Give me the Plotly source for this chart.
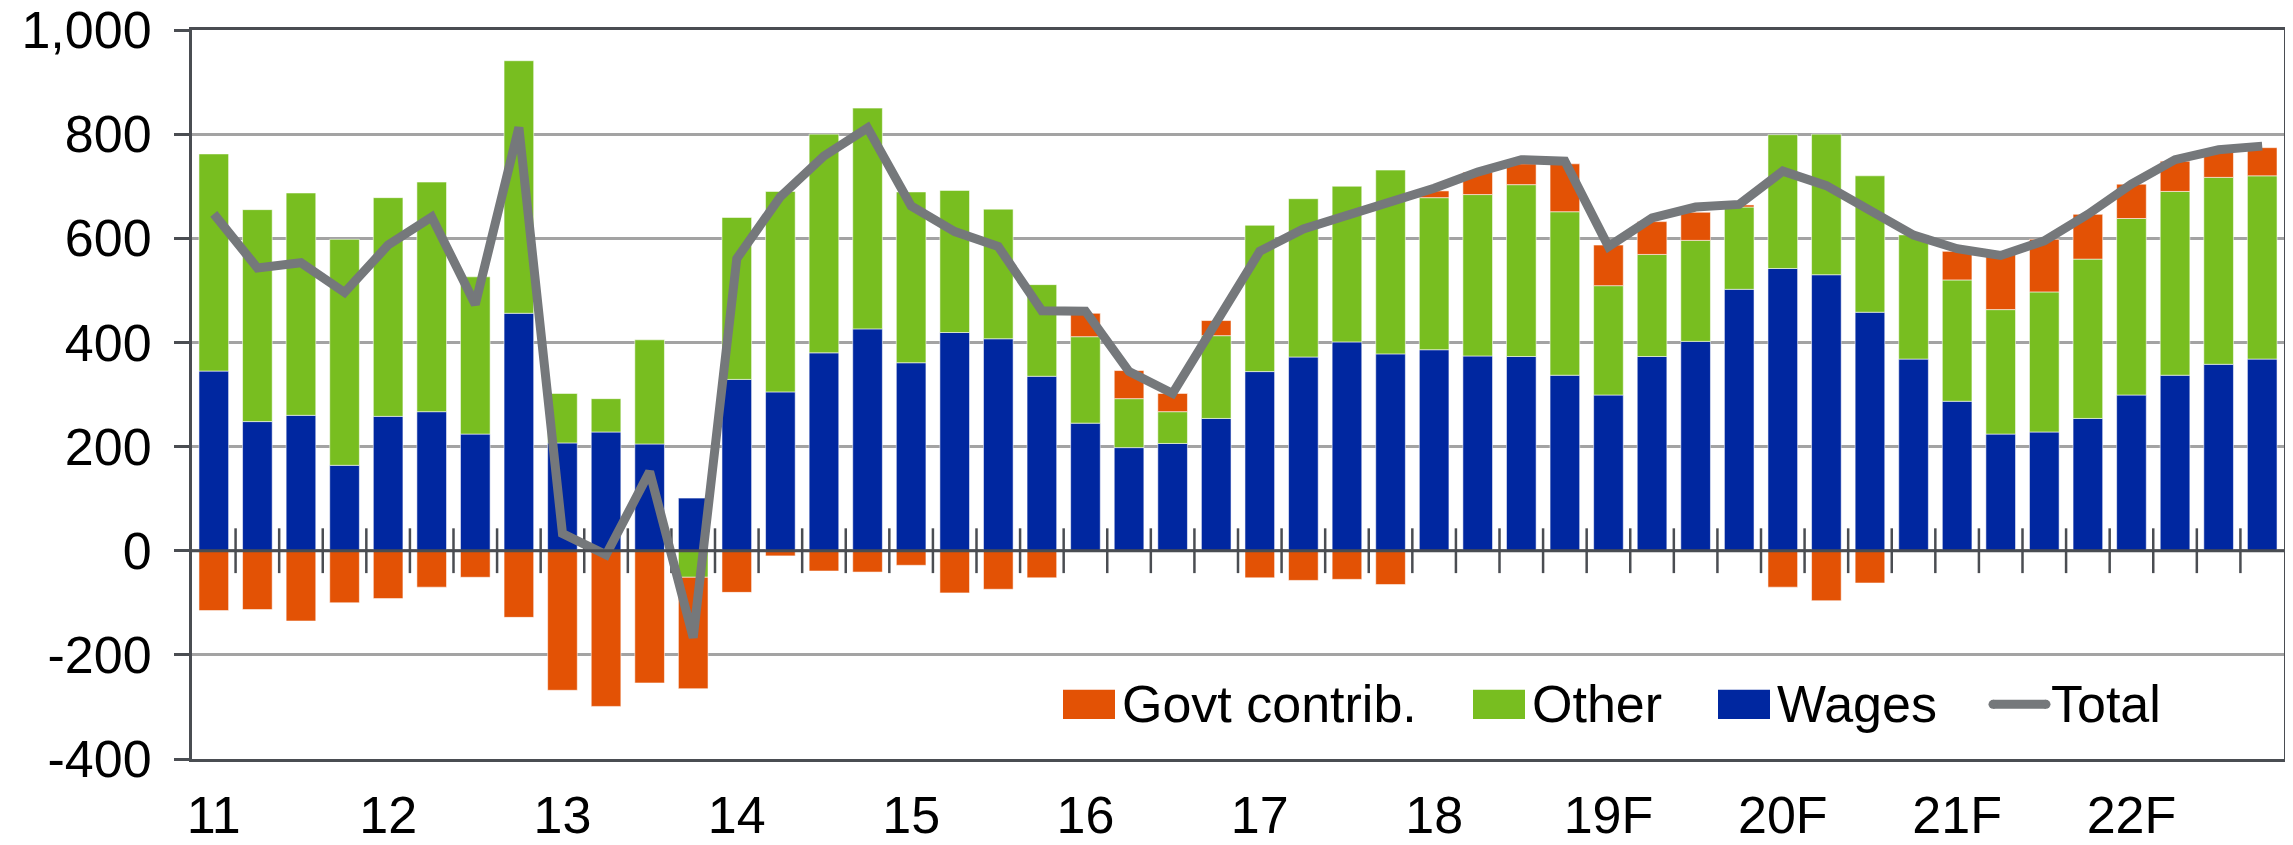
import plotly.graph_objects as go

# ---------------- data ----------------
year_labels = ["11", "12", "13", "14", "15", "16", "17", "18", "19F", "20F", "21F", "22F"]
quarters_per_year = 4

wages = [345, 248, 260, 164, 258, 267, 224, 456, 207, 228, 205, 101,
         329, 305, 380, 426, 361, 419, 407, 335, 245, 198, 206, 254,
         344, 372, 401, 378, 386, 374, 373, 337, 299, 373, 402, 502,
         542, 530, 458, 368, 287, 224, 228, 254, 299, 337, 358, 368]

other = [417, 407, 427, 434, 420, 441, 302, 485, 95, 64, 200, -51,
         311, 385, 420, 424, 328, 273, 249, 176, 166, 94, 61, 159,
         281, 304, 299, 353, 292, 310, 330, 314, 210, 196, 194, 158,
         257, 270, 262, 239, 233, 239, 269, 306, 339, 353, 359, 352]

govt = [-115, -113, -135, -100, -92, -70, -51, -128, -268, -299, -254, -214,
        -80, -10, -39, -41, -28, -81, -74, -52, 45, 54, 35, 29,
        -52, -57, -55, -65, 13, 43, 40, 92, 78, 63, 54, 4,
        -70, -96, -62, 0, 55, 109, 101, 86, 66, 58, 53, 54]

total = [647, 543, 553, 496, 587, 641, 473, 813, 33, -8, 152, -167,
         561, 680, 758, 812, 662, 613, 584, 461, 460, 344, 302, 442,
         575, 618, 644, 668, 696, 727, 751, 748, 584, 639, 660, 665,
         729, 701, 655, 606, 580, 567, 595, 646, 704, 751, 770, 777]

y_tick_values = [-400, -200, 0, 200, 400, 600, 800, 1000]
y_tick_labels = ["-400", "-200", "0", "200", "400", "600", "800", "1,000"]

series_names = ["Govt contrib.", "Other", "Wages", "Total"]
series_colors = ["#E35205", "#78BE20", "#0027A0", "#75787B"]

# ---------------- figure ----------------
# the page body has an 8px margin, so the figure is 8px smaller than the window
BODY = 8
W, H = 2293 - BODY, 845 - BODY
ML, MR, MT, MB = 192 - BODY, 9, 30 - BODY, 86
FONT = "Liberation Sans, Arial, sans-serif"
DARK = "#4A4D52"
GRID = "#A3A3A3"
FS = 52

n = len(wages)
x = list(range(n))

fig = go.Figure()
bar_line = dict(width=1, color="rgba(255,255,255,0.55)")
fig.add_trace(go.Bar(x=x, y=wages, name=series_names[2],
                     marker=dict(color=series_colors[2], line=bar_line)))
fig.add_trace(go.Bar(x=x, y=other, name=series_names[1],
                     marker=dict(color=series_colors[1], line=bar_line)))
fig.add_trace(go.Bar(x=x, y=govt, name=series_names[0],
                     marker=dict(color=series_colors[0], line=bar_line)))

# category-boundary tick marks crossing the zero line
boundaries = [i + 0.5 for i in range(n - 1)]
fig.add_trace(go.Scatter(x=boundaries, y=[0] * len(boundaries), mode="markers",
                         marker=dict(symbol="line-ns", size=32,
                                     line=dict(color=DARK, width=2.5)),
                         hoverinfo="skip", showlegend=False))

fig.add_trace(go.Scatter(x=x, y=total, name=series_names[3], mode="lines",
                         line=dict(color=series_colors[3], width=9)))

x_range = [-0.5, n - 0.5]
y_range = [-400, 1000]

fig.update_layout(
    width=W, height=H,
    margin=dict(l=ML, r=MR, t=MT, b=MB, autoexpand=False),
    paper_bgcolor="white", plot_bgcolor="white",
    barmode="relative", bargap=0.32,
    showlegend=False,
    font=dict(family=FONT, size=FS, color="black"),
    xaxis=dict(range=x_range, tickmode="array",
               tickvals=[i * quarters_per_year for i in range(len(year_labels))],
               ticktext=year_labels, ticks="", showgrid=False, zeroline=False,
               showline=True, linecolor=DARK, linewidth=3, mirror=True,
               tickfont=dict(size=FS, family=FONT, color="black"),
               ticklabelstandoff=9, ticklabeloverflow="allow",
               automargin=False),
    yaxis=dict(range=y_range, tickmode="array", tickvals=y_tick_values,
               ticktext=y_tick_labels, ticks="outside", ticklen=15, tickwidth=2.5,
               tickcolor=DARK, showline=True, linecolor=DARK, linewidth=3,
               mirror=True, showgrid=True, gridcolor=GRID, gridwidth=2.5,
               zeroline=False, tickfont=dict(size=FS, family=FONT, color="black"),
               ticklabelstandoff=12, ticklabeloverflow="allow",
               automargin=False),
)

# dark zero line drawn above the bars
fig.add_shape(type="line", xref="paper", yref="y", x0=0, x1=1, y0=0, y1=0,
              line=dict(color=DARK, width=3), layer="above")

# ---------------- legend (drawn manually to match the large swatches) ----------------
plot_w = W - ML - MR


def px2paper(px):
    return (px - BODY - ML) / plot_w


leg_y = -295
sw_half = 28
legend_items = [
    (0, 1063, 1115, 1120, "bar"),
    (1, 1473, 1525, 1530, "bar"),
    (2, 1718, 1770, 1775, "bar"),
    (3, 1989, 2050, 2049, "line"),
]
for idx, x0, x1, tx, kind in legend_items:
    if kind == "bar":
        fig.add_shape(type="rect", xref="paper", yref="y",
                      x0=px2paper(x0), x1=px2paper(x1),
                      y0=leg_y - sw_half, y1=leg_y + sw_half,
                      fillcolor=series_colors[idx], line=dict(width=0))
    else:
        fig.add_shape(type="line", xref="paper", yref="y",
                      x0=px2paper(x0 + 4), x1=px2paper(x1 - 4), y0=leg_y, y1=leg_y,
                      line=dict(color=series_colors[idx], width=9))
        for cx in (x0 + 4, x1 - 4):
            fig.add_shape(type="circle", xref="paper", yref="y",
                          x0=px2paper(cx - 4.5), x1=px2paper(cx + 4.5),
                          y0=leg_y - 8.6, y1=leg_y + 8.6,
                          fillcolor=series_colors[idx], line=dict(width=0))
    fig.add_annotation(xref="paper", yref="y", x=px2paper(tx), y=leg_y,
                       text=series_names[idx], showarrow=False,
                       xanchor="left", yanchor="middle",
                       font=dict(size=FS, family=FONT, color="black"))

fig.write_html("out.html")
